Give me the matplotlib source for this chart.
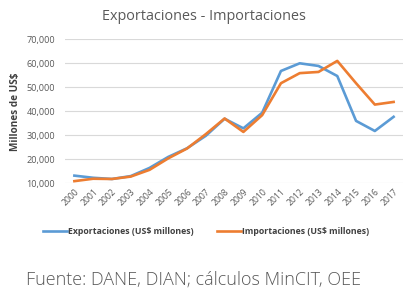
import matplotlib
matplotlib.use("Agg")
import matplotlib.pyplot as plt
from matplotlib.ticker import FuncFormatter

years = [str(y) for y in range(2000, 2018)]
exportaciones = [13200, 12300, 11800, 13000, 16400, 21000, 24600, 29800, 36900,
                 32900, 39400, 56800, 60000, 58900, 54700, 36000, 31800, 37700]
importaciones = [10900, 11900, 11800, 12800, 15600, 20400, 24500, 30500, 37000,
                 31400, 38400, 51700, 55900, 56400, 61000, 51700, 42800, 43900]

BLUE = "#5B9BD5"
ORANGE = "#ED7D31"
GRAY = "#595959"
FONT = ["Open Sans", "DejaVu Sans"]

W, H = 409, 306
fig = plt.figure(figsize=(W / 100, H / 100), dpi=100)
fig.patch.set_facecolor("white")

left, right, top, bottom = 65, 403, 39.3, 183.3
ax = fig.add_axes([left / W, 1 - bottom / H, (right - left) / W, (bottom - top) / H])

x = list(range(len(years)))
ax.plot(x, exportaciones, color=BLUE, lw=1.9, label="Exportaciones (US$ millones)",
        solid_joinstyle="round", zorder=3)
ax.plot(x, importaciones, color=ORANGE, lw=1.9, label="Importaciones (US$ millones)",
        solid_joinstyle="round", zorder=4)

ax.set_xlim(-0.5, len(years) - 0.5)
ax.set_ylim(10000, 70000)
ax.set_yticks(range(10000, 70001, 10000))
ax.yaxis.set_major_formatter(FuncFormatter(lambda v, p: f"{int(v):,}"))
ax.set_xticks(x)
ax.set_xticklabels(years, rotation=45, ha="right", va="top", rotation_mode="anchor",
                   fontsize=6.2, color=GRAY, family=FONT)
for lab in ax.get_yticklabels():
    lab.set_fontsize(6.6)
    lab.set_color(GRAY)
    lab.set_family(FONT)
ax.tick_params(axis="both", length=0)
ax.tick_params(axis="y", pad=7)
ax.tick_params(axis="x", pad=3)
ax.grid(axis="y", color="#D9D9D9", lw=0.8)
ax.set_axisbelow(True)
for s in ax.spines.values():
    s.set_visible(False)

ax.set_ylabel("Millones de US$", fontsize=7.2, fontweight="bold", color="#404040",
              family=FONT, labelpad=4)

fig.text(0.5 * (103 + 305) / W, 1 - 17 / H, "Exportaciones - Importaciones",
         ha="center", va="center", fontsize=10.4, color=GRAY, family=FONT)

leg = fig.legend(loc="center", bbox_to_anchor=(206 / W, 1 - 232 / H), ncol=2,
                 frameon=False, handlelength=2.75, handletextpad=0.15,
                 columnspacing=2.6, prop={"family": FONT, "size": 6.3, "weight": "bold"})
for t in leg.get_texts():
    t.set_color("#404040")

fig.text(26 / W, 1 - 280 / H, "Fuente: DANE, DIAN; cálculos MinCIT, OEE",
         ha="left", va="center", fontsize=13, color=GRAY, family=FONT, fontweight="light")

fig.savefig("out.png", dpi=100)
